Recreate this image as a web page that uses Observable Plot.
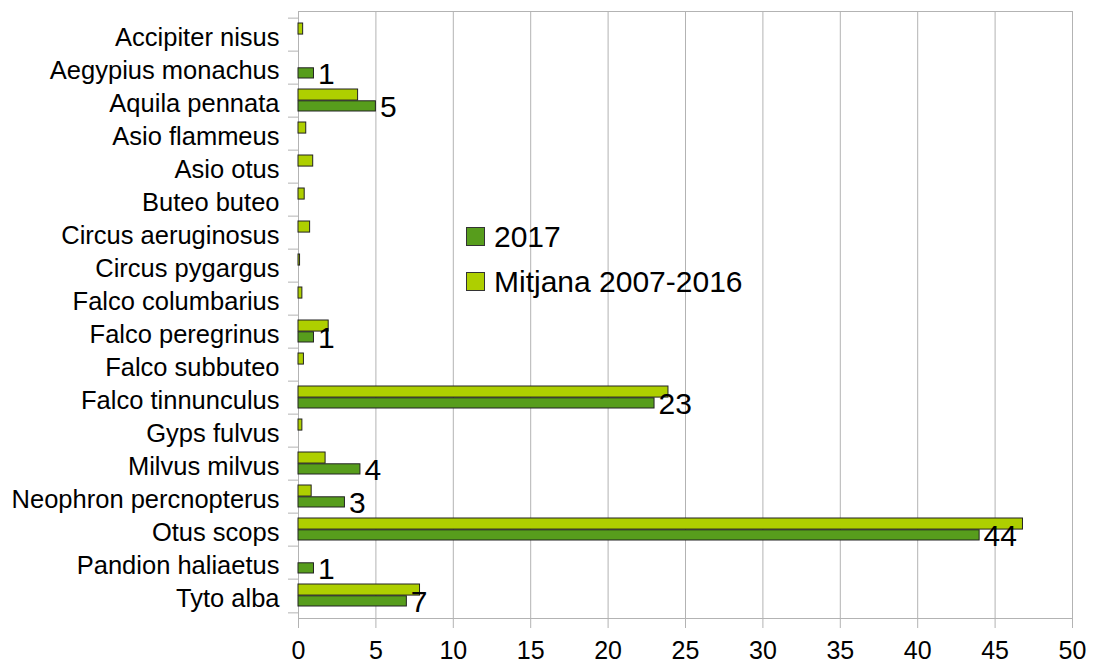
<!DOCTYPE html>
<html><head><meta charset="utf-8">
<script src="https://cdn.jsdelivr.net/npm/d3@7"></script>
<script src="https://cdn.jsdelivr.net/npm/@observablehq/plot@0.6"></script>
<style>
body{margin:0;background:#fff;font-family:"Liberation Sans",Arial,sans-serif;}
#wrap{position:relative;width:1097px;height:665px;}
#legend{position:absolute;left:466px;top:214px;font-size:30px;line-height:45px;color:#000;}
.item{display:flex;align-items:center;height:45px;white-space:nowrap;}
.sw{width:17px;height:17px;border:1px solid #333;margin-right:9px;}
</style></head><body><div id="wrap"></div>
<script>
const species = ["Accipiter nisus","Aegypius monachus","Aquila pennata","Asio flammeus","Asio otus","Buteo buteo","Circus aeruginosus","Circus pygargus","Falco columbarius","Falco peregrinus","Falco subbuteo","Falco tinnunculus","Gyps fulvus","Milvus milvus","Neophron percnopterus","Otus scops","Pandion haliaetus","Tyto alba"];
const seriesNames = ["2017","Mitjana 2007-2016"];
const values2017 = [null,1,5,null,null,null,null,null,null,1,null,23,null,4,3,44,1,7];
const valuesMitjana = [0.3,null,3.85,0.5,0.95,0.4,0.75,0.1,0.25,1.95,0.35,23.9,0.25,1.75,0.85,46.8,null,7.85];
const xTicks = [0,5,10,15,20,25,30,35,40,45,50];
const colors = ["#579d1c","#aecf00"];

const rows2017 = species.map((s,i)=>({species:s, value:values2017[i]})).filter(d=>d.value!=null);
const rowsMitjana = species.map((s,i)=>({species:s, value:valuesMitjana[i]})).filter(d=>d.value!=null);

const W = 1097, H = 665, mT = 11, mB = 47, mL = 298, mR = 25;
const bw = (H - mT - mB) / species.length;

const chart = Plot.plot({
  width: W, height: H,
  marginTop: mT, marginBottom: mB, marginLeft: mL, marginRight: mR,
  style: {fontFamily: '"Liberation Sans", Arial, sans-serif', fontSize: "25px", color: "#000", background: "#fff"},
  x: {domain: [0, 50], label: null},
  y: {domain: species, padding: 0, label: null},
  marks: [
    Plot.gridX(xTicks.slice(1, -1), {stroke: "#b3b3b3", strokeOpacity: 1}),
    Plot.frame({stroke: "#b3b3b3"}),
    Plot.barX(rowsMitjana, {x: "value", y: "species", fill: colors[1], stroke: "#222", strokeWidth: 1, insetTop: 5, insetBottom: bw - 16.8}),
    Plot.barX(rows2017, {x: "value", y: "species", fill: colors[0], stroke: "#222", strokeWidth: 1, insetTop: 16.8, insetBottom: 6}),
    Plot.axisX(xTicks, {tickSize: 10, tickPadding: 13, stroke: "#b3b3b3", fill: "#000", fontSize: 25, label: null}),
    Plot.axisY({tickSize: 0, tickPadding: 19, fill: "#000", fontSize: 25.5, dy: 3, label: null}),
    Plot.axisY(species, {tickSize: 10, tickFormat: () => "", dy: -bw/2, stroke: "#b3b3b3", label: null}),
    Plot.axisY([species[species.length-1]], {tickSize: 10, tickFormat: () => "", dy: bw/2, stroke: "#b3b3b3", label: null}),
    Plot.text(rows2017, {x: "value", y: "species", text: d => String(d.value), textAnchor: "start", dx: 4, dy: 6.4, fontSize: 30, fill: "#000"})
  ]
});
const wrap = document.getElementById("wrap");
wrap.appendChild(chart);
const legend = document.createElement("div");
legend.id = "legend";
seriesNames.forEach((n,i)=>{
  const it = document.createElement("div"); it.className = "item";
  const sw = document.createElement("div"); sw.className = "sw"; sw.style.background = colors[i];
  const t = document.createElement("span"); t.textContent = n;
  it.appendChild(sw); it.appendChild(t); legend.appendChild(it);
});
wrap.appendChild(legend);
</script></body></html>
